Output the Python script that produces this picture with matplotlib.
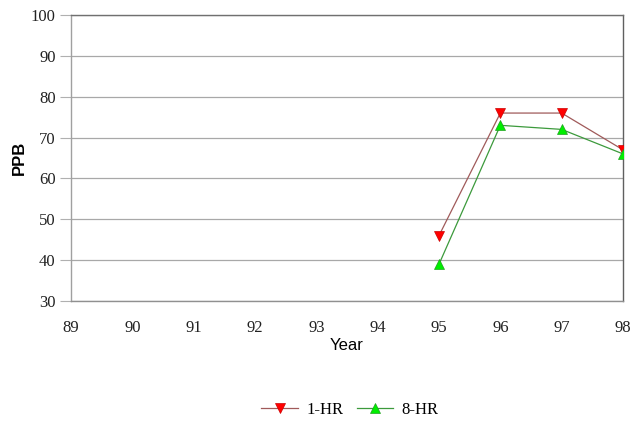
import matplotlib
matplotlib.use('Agg')
import matplotlib.pyplot as plt

years = [89, 90, 91, 92, 93, 94, 95, 96, 97, 98]
plot_years = [95, 96, 97, 98]
hr1 = [46, 76, 76, 67]
hr8 = [39, 73, 72, 66]

serif = ['Liberation Serif', 'DejaVu Serif']
sans = ['Liberation Sans', 'DejaVu Sans']

fig = plt.figure(figsize=(6.31, 4.24), dpi=100, facecolor='white')
ax = fig.add_axes([71 / 631, 1 - 301 / 424, (623 - 71) / 631, (301 - 15) / 424])

ax.plot(plot_years, hr1, color='#a05a5a', lw=0.9, marker='v', ms=7.5,
        mfc='#ff0000', mec='#cc0000', mew=0.5, label='1-HR', zorder=3)
ax.plot(plot_years, hr8, color='#3c9a3c', lw=0.9, marker='^', ms=7.5,
        mfc='#00ee00', mec='#20a020', mew=0.5, label='8-HR', zorder=3)

ax.set_xlim(89, 98)
ax.set_ylim(30, 100)
ax.set_xticks(years)
ax.set_xticklabels([str(y) for y in years], family=serif, fontsize=12, color='#222222')
ax.set_yticks(range(30, 101, 10))
ax.set_yticklabels([str(v) for v in range(30, 101, 10)], family=serif, fontsize=12, color='#222222')
ax.yaxis.grid(True, color='#a8a8a8', lw=0.9)
ax.set_axisbelow(True)
ax.tick_params(axis='y', length=8, color='#b0b0b0', pad=3)
ax.tick_params(axis='x', length=0, pad=14)

ax.spines['left'].set_color('#a0a0a0')
ax.spines['bottom'].set_color('#909090')
ax.spines['top'].set_color('#707070')
ax.spines['right'].set_color('#606060')
for s in ax.spines.values():
    s.set_linewidth(1.0)

ax.set_ylabel('PPB', family=sans, fontsize=12, fontweight='bold', labelpad=3)
ax.set_xlabel('Year', family=sans, fontsize=12, labelpad=1)

leg = fig.legend(loc='center', bbox_to_anchor=(350 / 631, 1 - 410 / 424), ncol=2,
                 frameon=False, prop={'family': serif, 'size': 12},
                 handlelength=2.2, columnspacing=0.8, handletextpad=0.5)

fig.savefig('out.png', dpi=100, facecolor='white')
